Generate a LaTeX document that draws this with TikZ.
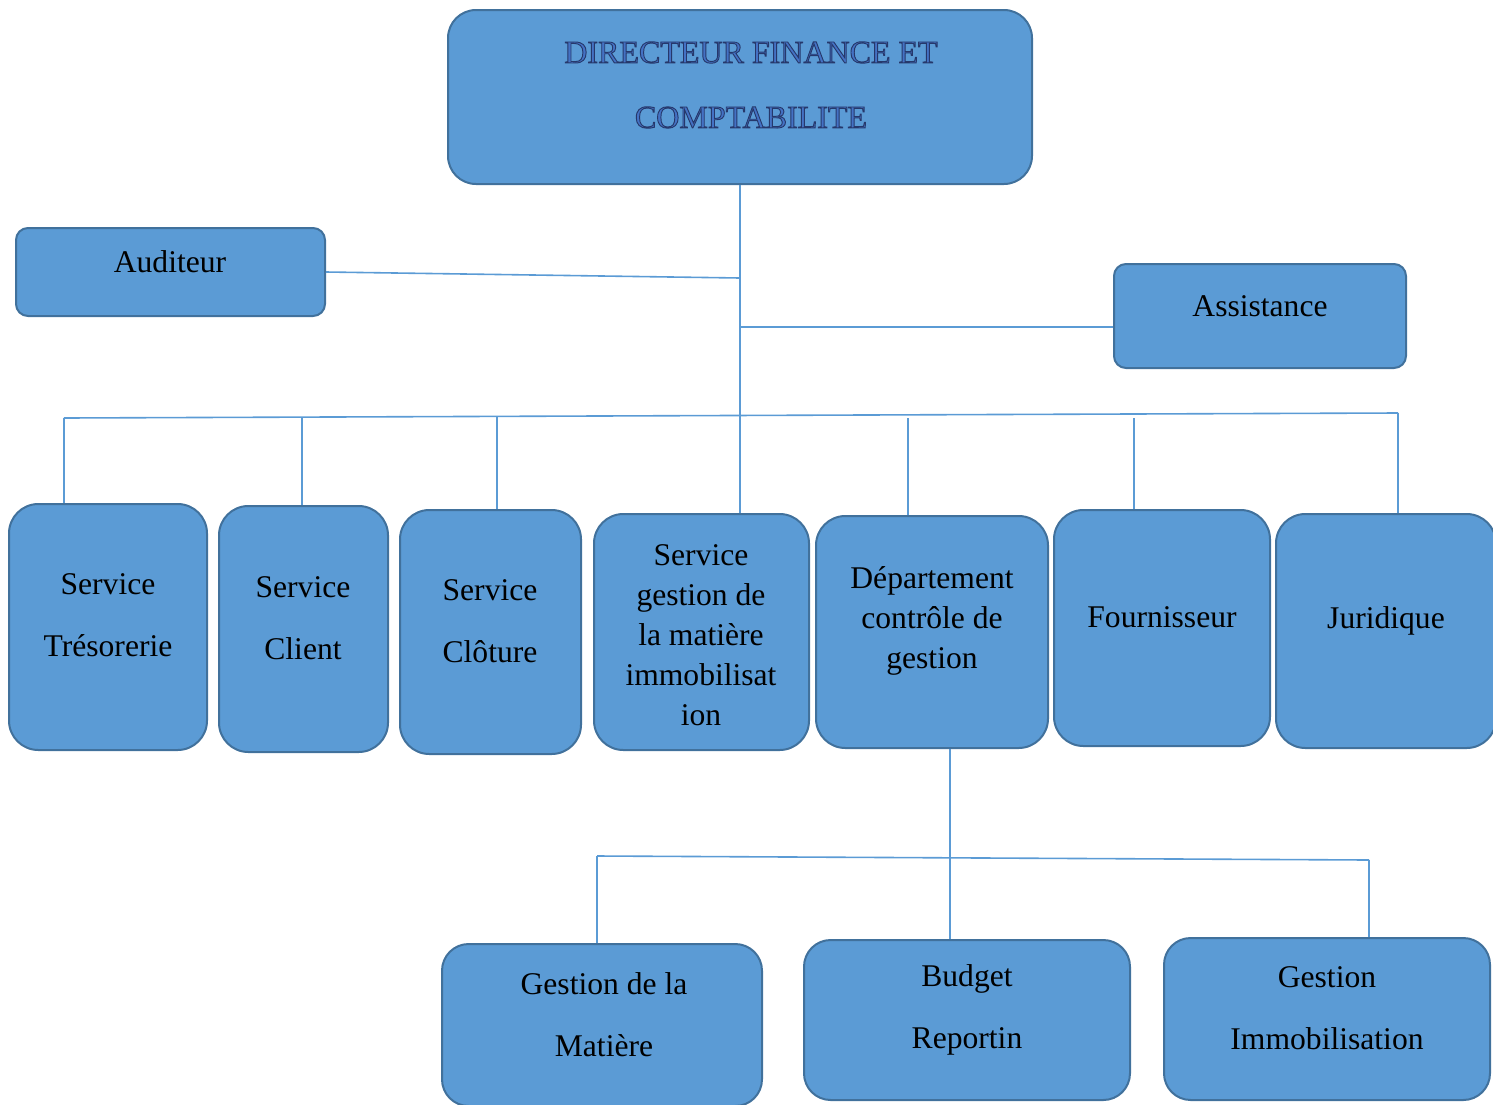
\documentclass[tikz,border=0pt]{standalone}
\usepackage{fontspec}
\setmainfont{Liberation Serif}
\definecolor{boxfill}{RGB}{91,155,213}
\definecolor{boxline}{RGB}{65,113,156}
\definecolor{dirblue}{RGB}{68,114,196}
\newcommand\outlinetext[1]{\special{pdf:literal direct 2 Tr 0.7 w 0.15 0.22 0.42 RG}#1\special{pdf:literal direct 0 Tr}}
\tikzset{
  boxsize/.style 2 args={minimum width=#1*0.75pt, minimum height=#2*0.75pt},
  orgbox/.style={draw=boxline, fill=boxfill, line width=1.5pt, inner sep=0pt, rounded corners=22pt},
  orglabel/.style={inner sep=0pt, align=center, font=\fontsize{23.7}{46.5}\selectfont},
  link/.style={draw=boxfill, line width=1.2pt},
}
\begin{document}
\begin{tikzpicture}[x=0.75pt,y=0.75pt,yscale=-1,xscale=1]
\useasboundingbox (0,0) rectangle (1493,1104);

%Shape: Rounded Rect [directeur]
\node [orgbox, boxsize={584}{174}, rounded corners=21pt] (dir) at (740,97) {};
%Shape: Rounded Rect [auditeur]
\node [orgbox, boxsize={309}{88}, rounded corners=9pt] (auditeur) at (170.5,272) {};
%Shape: Rounded Rect [assistance]
\node [orgbox, boxsize={292}{104}, rounded corners=9pt] (assistance) at (1260,316) {};

%Shape: Rounded Rect [services]
\node [orgbox, boxsize={198}{246}] (tresorerie) at (108,627) {};
\node [orgbox, boxsize={169}{246}] (client) at (303.5,629) {};
\node [orgbox, boxsize={181}{244}] (cloture) at (490.5,632) {};
\node [orgbox, boxsize={215}{236}] (gestmat) at (701.5,632) {};
\node [orgbox, boxsize={232}{232}] (dcg) at (932,632) {};
\node [orgbox, boxsize={216}{236}] (fournisseur) at (1162,628) {};
\node [orgbox, boxsize={220}{234}] (juridique) at (1386,631) {};

%Shape: Rounded Rect [controle de gestion]
\node [orgbox, boxsize={320}{162}, rounded corners=20pt] (matiere) at (602,1025) {};
\node [orgbox, boxsize={326}{160}, rounded corners=20pt] (budget) at (967,1020) {};
\node [orgbox, boxsize={326}{162}, rounded corners=20pt] (immob) at (1327,1019) {};

% Text Node
\node [orglabel, font=\fontsize{24}{48.75}\selectfont, text=dirblue] (dir-label) at (751,85) {\outlinetext{DIRECTEUR FINANCE ET}\\\outlinetext{COMPTABILITE}};
\node [orglabel] (auditeur-label) at (170,262) {Auditeur};
\node [orglabel] (assistance-label) at (1260,306) {Assistance};
\node [orglabel] (tresorerie-label) at (108,615) {Service\\Trésorerie};
\node [orglabel] (client-label) at (303,618) {Service\\Client};
\node [orglabel] (cloture-label) at (490,621) {Service\\Clôture};
\node [orglabel, font=\fontsize{23.7}{30}\selectfont] (gestmat-label) at (701,635) {Service\\gestion de\\la matière\\immobilisat\\ion};
\node [orglabel, font=\fontsize{23.7}{30}\selectfont] (dcg-label) at (932,621) {Département\\contrôle de\\gestion};
\node [orglabel] (fournisseur-label) at (1162,617) {Fournisseur};
\node [orglabel] (juridique-label) at (1386,621) {Juridique};
\node [orglabel] (matiere-label) at (604,1015) {Gestion de la\\Matière};
\node [orglabel] (budget-label) at (967,1009.5) {Budget\\Reportin};
\node [orglabel] (immob-label) at (1327,1008) {Gestion\\Immobilisation};

%Straight Lines [trunk]
\draw [link] (dir.south) -- (dir.south |- gestmat.north);
\coordinate (aud-j) at (740,278);
\draw [link] (auditeur.east) -- (aud-j);
\coordinate (asst-j) at (740,327);
\draw [link] (asst-j) -- (asst-j -| assistance.west);

%Straight Lines [bus]
\coordinate (bus-l) at (64,418);
\coordinate (bus-r) at (1398,413);
\draw [link] (bus-l) -- (bus-r);
\draw [link] (bus-l) -- (bus-l |- tresorerie.north);
\coordinate (drop-client) at (302,418);
\draw [link] (drop-client) -- (drop-client |- client.north);
\coordinate (drop-cloture) at (497,417);
\draw [link] (drop-cloture) -- (drop-cloture |- cloture.north);
\coordinate (drop-dcg) at (908,418);
\draw [link] (drop-dcg) -- (drop-dcg |- dcg.north);
\coordinate (drop-fournisseur) at (1134,418);
\draw [link] (drop-fournisseur) -- (drop-fournisseur |- fournisseur.north);
\draw [link] (bus-r) -- (bus-r |- juridique.north);

%Straight Lines [controle de gestion]
\coordinate (bot-j) at (950,748);
\draw [link] (dcg.south -| bot-j) -- (bot-j |- budget.north);
\coordinate (bus2-l) at (597,856);
\coordinate (bus2-r) at (1369,860);
\draw [link] (bus2-l) -- (bus2-r);
\draw [link] (bus2-l) -- (bus2-l |- matiere.north);
\draw [link] (bus2-r) -- (bus2-r |- immob.north);

\end{tikzpicture}
\end{document}
